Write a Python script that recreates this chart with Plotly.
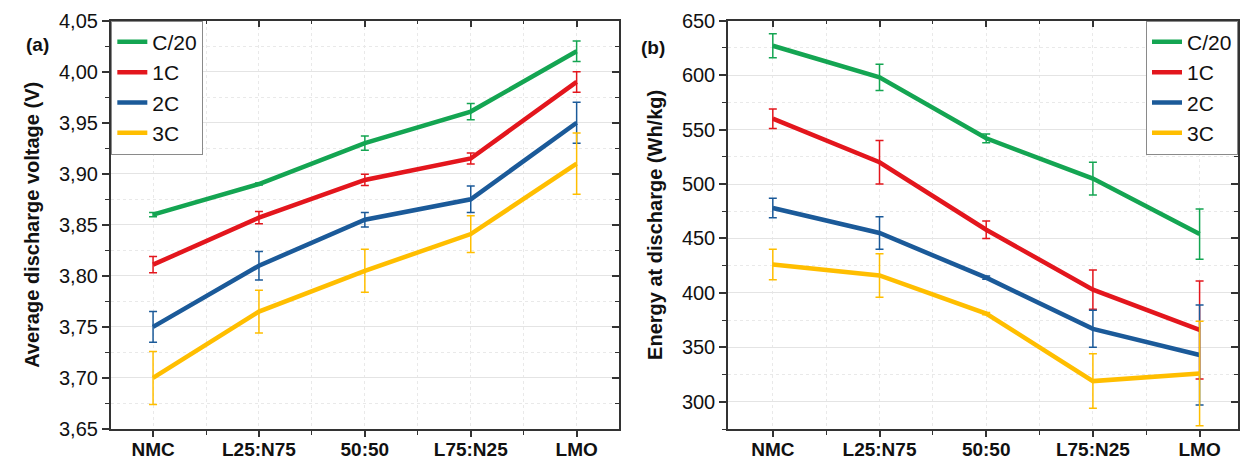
import plotly.graph_objects as go

categories = ["NMC", "L25:N75", "50:50", "L75:N25", "LMO"]
series_names = ["C/20", "1C", "2C", "3C"]
colors = ["#14a552", "#e3161d", "#1b5a99", "#ffbe00"]

# Panel (a): average discharge voltage (V)
volt_c20 = [3.860, 3.890, 3.930, 3.961, 4.020]
volt_c20_err = [0.002, 0.001, 0.007, 0.008, 0.010]
volt_1c = [3.811, 3.857, 3.894, 3.915, 3.990]
volt_1c_err = [0.008, 0.006, 0.0055, 0.0055, 0.010]
volt_2c = [3.750, 3.810, 3.855, 3.875, 3.950]
volt_2c_err = [0.015, 0.014, 0.007, 0.013, 0.020]
volt_3c = [3.700, 3.765, 3.805, 3.841, 3.910]
volt_3c_err = [0.026, 0.021, 0.021, 0.018, 0.030]

# Panel (b): energy at discharge (Wh/kg)
en_c20 = [627, 598, 542, 505, 454]
en_c20_err = [11, 12, 4, 15, 23]
en_1c = [560, 520, 458, 403, 366]
en_1c_err = [9, 20, 8, 18, 45]
en_2c = [478, 455, 414, 367, 343]
en_2c_err = [9, 15, 1.5, 17, 46]
en_3c = [426, 416, 381, 319, 326]
en_3c_err = [14, 20, 1, 25, 48]

volt_series = [(volt_c20, volt_c20_err), (volt_1c, volt_1c_err), (volt_2c, volt_2c_err), (volt_3c, volt_3c_err)]
en_series = [(en_c20, en_c20_err), (en_1c, en_1c_err), (en_2c, en_2c_err), (en_3c, en_3c_err)]

W, H = 1243, 461
xpos = list(range(len(categories)))

def px_x(p):
    return p / W

def px_y(p):
    return 1 - p / H

FONT = "Liberation Sans, Arial, sans-serif"
fig = go.Figure()

for i, (vals, errs) in enumerate(volt_series):
    fig.add_trace(go.Scatter(
        x=xpos, y=vals, mode="lines", name=series_names[i],
        line=dict(color=colors[i], width=4.5),
        error_y=dict(type="data", array=errs, color=colors[i], thickness=1.5, width=4),
        xaxis="x", yaxis="y", legend="legend"))

for i, (vals, errs) in enumerate(en_series):
    fig.add_trace(go.Scatter(
        x=xpos, y=vals, mode="lines", name=series_names[i],
        line=dict(color=colors[i], width=4.5),
        error_y=dict(type="data", array=errs, color=colors[i], thickness=1.5, width=4),
        xaxis="x2", yaxis="y2", legend="legend2"))

# empty traces to carry the mirrored (inside-tick) frame axes
fig.add_trace(go.Scatter(x=[], y=[], xaxis="x3", yaxis="y3", showlegend=False))
fig.add_trace(go.Scatter(x=[], y=[], xaxis="x4", yaxis="y4", showlegend=False))

dom_a = [px_x(110.7), px_x(619)]
dom_b = [px_x(728), px_x(1238)]
dom_y = [px_y(429), px_y(20.7)]
rng_xa = [-0.4, 4.4]
rng_xb = [-0.42, 4.36]
rng_ya = [3.65, 4.05]
rng_yb = [275, 650]

grid_major = "#e4e4e4"
grid_minor = "#e9e9e9"

def xaxis_main(dom, rng, anchor):
    return dict(domain=dom, range=rng, anchor=anchor, tickvals=xpos,
                ticktext=["<b>" + c + "</b>" for c in categories], automargin=False,
                tickfont=dict(family=FONT, size=19, color="#111"), showgrid=False,
                ticks="outside", ticklen=6, tickwidth=1.5, tickcolor="#333", ticklabelstandoff=-4,
                showline=True, linecolor="#333", linewidth=1.5, zeroline=False,
                minor=dict(dtick=0.5, tick0=0, ticks="outside", ticklen=4, tickwidth=1.2,
                           tickcolor="#333", showgrid=True, gridcolor=grid_minor, griddash="dot", gridwidth=1))

def yaxis_main(dom, rng, anchor, dtick, minor_dtick, t0, fmt, title):
    return dict(domain=dom, range=rng, anchor=anchor, dtick=dtick, tick0=t0, tickformat=fmt,
                tickfont=dict(family=FONT, size=20, color="#111"), automargin=False,
                showgrid=True, gridcolor=grid_major, gridwidth=1.2,
                ticks="outside", ticklen=7, tickwidth=1.5, tickcolor="#333",
                showline=True, linecolor="#333", linewidth=1.5, zeroline=False,
                title=dict(text="<b>" + title + "</b>", font=dict(family=FONT, size=20, color="#111"), standoff=14),
                minor=dict(dtick=minor_dtick, tick0=t0, ticks="outside", ticklen=4, tickwidth=1.2,
                           tickcolor="#333", showgrid=True, gridcolor=grid_minor, griddash="dot", gridwidth=1))

def xaxis_mirror(dom, rng, overlay, anchor):
    return dict(domain=dom, range=rng, overlaying=overlay, anchor=anchor, side="top",
                tickvals=xpos, showticklabels=False, showgrid=False, zeroline=False, automargin=False,
                ticks="inside", ticklen=7, tickwidth=1.5, tickcolor="#333",
                showline=True, linecolor="#333", linewidth=1.5,
                minor=dict(dtick=0.5, tick0=0, ticks="inside", ticklen=4, tickwidth=1.2, tickcolor="#333", showgrid=False))

def yaxis_mirror(dom, rng, overlay, anchor, dtick, minor_dtick, t0):
    return dict(domain=dom, range=rng, overlaying=overlay, anchor=anchor, side="right",
                dtick=dtick, tick0=t0, showticklabels=False, showgrid=False, zeroline=False, automargin=False,
                ticks="inside", ticklen=7, tickwidth=1.5, tickcolor="#333",
                showline=True, linecolor="#333", linewidth=1.5,
                minor=dict(dtick=minor_dtick, tick0=t0, ticks="inside", ticklen=4, tickwidth=1.2, tickcolor="#333", showgrid=False))

legend_common = dict(bgcolor="white", bordercolor="#8a8a8a", borderwidth=1,
                     font=dict(family=FONT, size=21, color="#111"), tracegroupgap=0,
                     yanchor="top", itemwidth=30)

fig.update_layout(
    width=W, height=H, margin=dict(l=0, r=0, t=0, b=0, autoexpand=False),
    paper_bgcolor="white", plot_bgcolor="white", separators=",.",
    xaxis=xaxis_main(dom_a, rng_xa, "y"),
    yaxis=yaxis_main(dom_y, rng_ya, "x", 0.05, 0.025, 3.65, ".2f", "Average discharge voltage (V)"),
    xaxis2=xaxis_main(dom_b, rng_xb, "y2"),
    yaxis2=yaxis_main(dom_y, rng_yb, "x2", 50, 25, 0, "d", "Energy at discharge (Wh/kg)"),
    xaxis3=xaxis_mirror(dom_a, rng_xa, "x", "y3"),
    yaxis3=yaxis_mirror(dom_y, rng_ya, "y", "x3", 0.05, 0.025, 3.65),
    xaxis4=xaxis_mirror(dom_b, rng_xb, "x2", "y4"),
    yaxis4=yaxis_mirror(dom_y, rng_yb, "y2", "x4", 50, 25, 0),
    legend=dict(x=dom_a[0] + 0.0005, y=dom_y[1], xanchor="left", **legend_common),
    legend2=dict(x=dom_b[1], y=dom_y[1], xanchor="right", **legend_common),
    annotations=[
        dict(text="<b>(a)</b>", x=px_x(24), y=px_y(32), xref="paper", yref="paper",
             showarrow=False, font=dict(family=FONT, size=19, color="#111")),
        dict(text="<b>(b)</b>", x=px_x(653), y=px_y(35), xref="paper", yref="paper",
             showarrow=False, font=dict(family=FONT, size=19, color="#111")),
    ],
)

fig.write_html("out.html")
